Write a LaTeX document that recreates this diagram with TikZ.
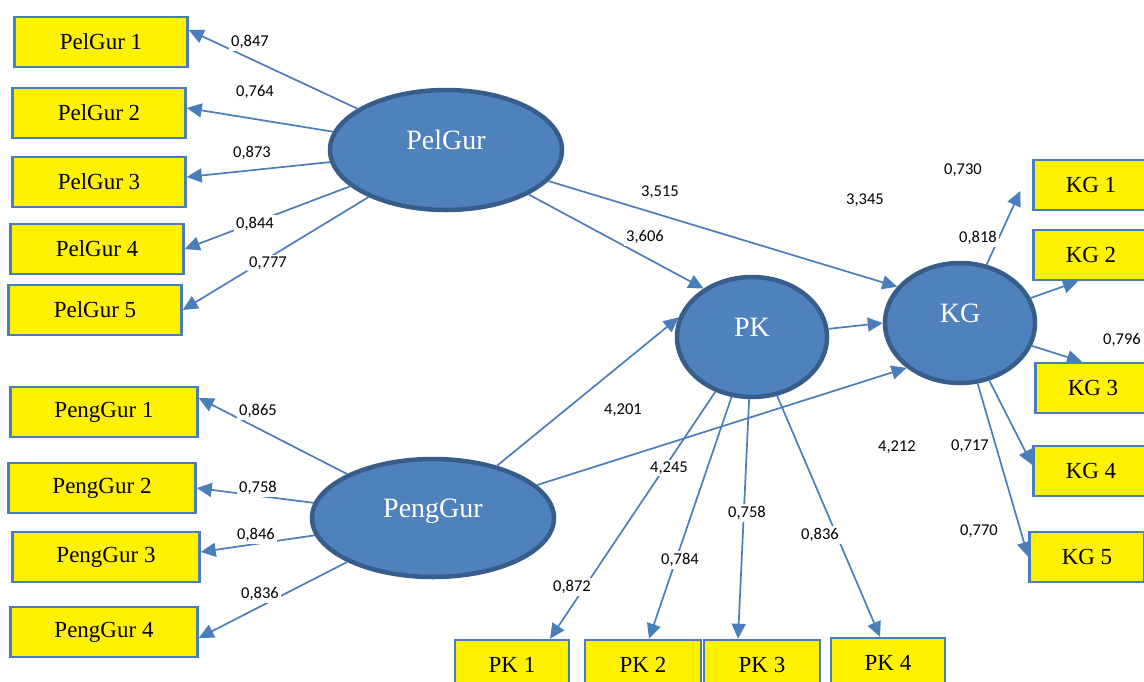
\documentclass[tikz,border=0pt]{standalone}
\usepackage{fontspec}
\setmainfont{Liberation Serif}
\newfontfamily\lblfont{Carlito}
\usetikzlibrary{positioning}
\usetikzlibrary{shapes.geometric}
\usetikzlibrary{arrows.meta}
\definecolor{linkblue}{HTML}{4A7EBB}
\definecolor{latentfill}{HTML}{4F81BD}
\definecolor{latentedge}{HTML}{385D8A}

\begin{document}
\begin{tikzpicture}[
  x=1pt,y=-1pt,
  indicator/.style={draw=linkblue,line width=2.5pt,fill=yellow,minimum height=50pt,
    inner sep=0pt,font=\fontsize{23}{26}\selectfont},
  latent/.style={ellipse,draw=latentedge,line width=4.5pt,fill=latentfill,text=white,
    inner sep=0pt,text height=20pt,text depth=22pt,font=\fontsize{28}{30}\selectfont},
  loading/.style={fill=white,inner sep=2pt,font=\lblfont\fontsize{16.5}{18}\selectfont},
  link/.style={draw=linkblue,line width=1.7pt,-{Triangle[length=15pt,width=14pt]}}
  ]
  \useasboundingbox (0,0) rectangle (1144,681);

  % latent variables
  \node (pelgur)  [latent,minimum width=232pt,minimum height=120pt] at (446,150) {PelGur};
  \node (penggur) [latent,minimum width=242pt,minimum height=118pt] at (433,518) {PengGur};
  \node (pk)      [latent,minimum width=150pt,minimum height=120pt] at (752,337) {PK};
  \node (kg)      [latent,minimum width=150pt,minimum height=120pt] at (960,323) {KG};

  % indicators
  \node (pel1)  [indicator,minimum width=173pt] at (101,42)  {PelGur 1};
  \node (pel2)  [indicator,minimum width=173pt] at (99,113)  {PelGur 2};
  \node (pel3)  [indicator,minimum width=173pt] at (99,182)  {PelGur 3};
  \node (pel4)  [indicator,minimum width=173pt] at (97,249)  {PelGur 4};
  \node (pel5)  [indicator,minimum width=173pt] at (95,310)  {PelGur 5};
  \node (peng1) [indicator,minimum width=187pt] at (104,412) {PengGur 1};
  \node (peng2) [indicator,minimum width=187pt] at (102,488) {PengGur 2};
  \node (peng3) [indicator,minimum width=187pt] at (106,557) {PengGur 3};
  \node (peng4) [indicator,minimum width=187pt] at (104,632) {PengGur 4};
  \node (pk1)   [indicator,minimum width=114pt] at (512,665) {PK 1};
  \node (pk2)   [indicator,minimum width=116pt] at (643,665) {PK 2};
  \node (pk3)   [indicator,minimum width=116pt] at (762,665) {PK 3};
  \node (pk4)   [indicator,minimum width=114pt] at (888,663) {PK 4};
  \node (kg1)   [indicator,minimum width=115pt] at (1091,185) {KG 1};
  \node (kg2)   [indicator,minimum width=115pt] at (1091,255) {KG 2};
  \node (kg3)   [indicator,minimum width=115pt] at (1093,388) {KG 3};
  \node (kg4)   [indicator,minimum width=115pt] at (1091,471) {KG 4};
  \node (kg5)   [indicator,minimum width=115pt] at (1087,557) {KG 5};

  % outer loadings
  \draw [link] (pelgur) -- ([yshift=12pt]pel1.east);
  \draw [link] (pelgur) -- ([yshift=5pt]pel2.east);
  \draw [link] (pelgur) -- ([yshift=5pt]pel3.east);
  \draw [link] (pelgur) -- (pel4.east);
  \draw [link] (pelgur) -- (pel5.east);
  \draw [link] (penggur) -- ([yshift=14pt]peng1.east);
  \draw [link] (penggur) -- (peng2.east);
  \draw [link] (penggur) -- ([yshift=5pt]peng3.east);
  \draw [link] (penggur) -- ([yshift=-6pt]peng4.east);
  \draw [link] (pk) -- ([xshift=38pt]pk1.north);
  \draw [link] (pk) -- ([xshift=6pt]pk2.north);
  \draw [link] (pk) -- ([xshift=-24pt]pk3.north);
  \draw [link] (pk) -- ([xshift=-8pt]pk4.north);
  \draw [link] (kg) -- ([xshift=-12pt,yshift=-6pt]kg1.west);
  \draw [link] (kg) -- ([xshift=-13pt]kg2.south);
  \draw [link] (kg) -- ([xshift=-11pt]kg3.north);
  \draw [link] (kg) -- ([yshift=6pt]kg4.west);
  \draw [link] (kg) -- (kg5.west);

  % inner paths
  \draw [link] (pelgur) -- (kg.150);
  \draw [link] (pelgur) -- (pk.135);
  \draw [link] (penggur) -- (pk.165);
  \draw [link] (penggur) -- (kg.220);
  \draw [link] (pk) -- (kg.west);

  % values
  \node (v1)  [loading] at (250,42)   {0,847};
  \node (v2)  [loading] at (255,92)   {0,764};
  \node (v3)  [loading] at (252,153)  {0,873};
  \node (v4)  [loading] at (255,224)  {0,844};
  \node (v5)  [loading] at (268,263)  {0,777};
  \node (v6)  [loading] at (258,411)  {0,865};
  \node (v7)  [loading] at (258,488)  {0,758};
  \node (v8)  [loading] at (256,535)  {0,846};
  \node (v9)  [loading] at (260,594)  {0,836};
  \node (v10) [loading] at (660,192)  {3,515};
  \node (v11) [loading] at (645,237)  {3,606};
  \node (v12) [loading] at (623,410)  {4,201};
  \node (v13) [loading] at (669,468)  {4,245};
  \node (v14) [loading] at (865,200)  {3,345};
  \node (v15) [loading] at (897,447)  {4,212};
  \node (v16) [loading] at (572,587)  {0,872};
  \node (v17) [loading] at (680,560)  {0,784};
  \node (v18) [loading] at (747,513)  {0,758};
  \node (v19) [loading] at (820,535)  {0,836};
  \node (v20) [loading] at (963,170)  {0,730};
  \node (v21) [loading] at (978,238)  {0,818};
  \node (v22) [loading] at (1122,340) {0,796};
  \node (v23) [loading] at (970,446)  {0,717};
  \node (v24) [loading] at (979,531)  {0,770};
\end{tikzpicture}
\end{document}
